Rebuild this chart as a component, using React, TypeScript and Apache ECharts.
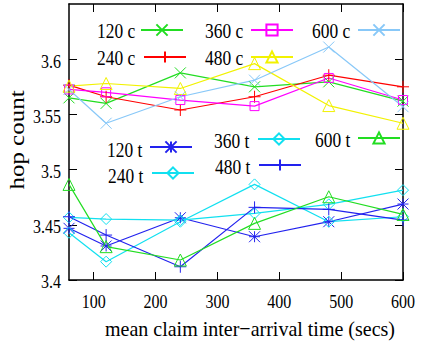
import { useEffect, useRef } from "react";
import * as echarts from "echarts";

// Mean claim inter-arrival time (secs) at which each run was measured
const claimTimes = [60, 120, 240, 360, 480, 600];
const xTickValues = [100, 200, 300, 400, 500, 600];
const yTickValues = [3.4, 3.45, 3.5, 3.55, 3.6];

// Average hop count, "c" runs
const hops120c = [3.565, 3.560, 3.5876, 3.575, 3.5795, 3.562];
const hops240c = [3.5765, 3.566, 3.554, 3.566, 3.5855, 3.575];
const hops360c = [3.5726, 3.570, 3.563, 3.5575, 3.583, 3.563];
const hops480c = [3.5756, 3.578, 3.5735, 3.596, 3.558, 3.542];
const hops600c = [3.5726, 3.542, 3.566, 3.581, 3.611, 3.557];

// Average hop count, "t" runs
const hops120t = [3.4468, 3.4308, 3.4564, 3.4392, 3.4528, 3.4688];
const hops240t = [3.4428, 3.4166, 3.4528, 3.4866, 3.4528, 3.4573];
const hops360t = [3.4567, 3.4552, 3.4543, 3.4603, 3.4685, 3.4814];
const hops480t = [3.4573, 3.4407, 3.412, 3.4658, 3.464, 3.4543];
const hops600t = [3.4866, 3.4302, 3.4181, 3.4513, 3.4754, 3.4594];

const X_MIN = 60;
const X_MAX = 600;
const Y_MIN = 3.4;
const Y_MAX = 3.65;

const SERIF = "Liberation Serif, Times New Roman, DejaVu Serif, serif";
// lettering is drawn at a large size and narrowed, giving tall, condensed glyphs
const tickFont = `20px ${SERIF}`;
const keyFont = `20px ${SERIF}`;

// gnuplot-style point types
const CROSS = "path://M0,0L10,10M10,0L0,10";
const PLUS = "path://M5,0L5,10M0,5L10,5";
const STAR = "path://M0,0L10,10M10,0L0,10M5,0L5,10M0,5L10,5";

type Spec = {
  name: string;
  values: number[];
  color: string;
  symbol: string;
  size: number;
};

const specs: Spec[] = [
  { name: "120 c", values: hops120c, color: "#22dd22", symbol: CROSS, size: 11 },
  { name: "240 c", values: hops240c, color: "#ff0000", symbol: PLUS, size: 12 },
  { name: "360 c", values: hops360c, color: "#ff00ff", symbol: "rect", size: 9 },
  { name: "480 c", values: hops480c, color: "#f2f200", symbol: "triangle", size: 12 },
  { name: "600 c", values: hops600c, color: "#88c8f8", symbol: CROSS, size: 11 },
  { name: "120 t", values: hops120t, color: "#2222ee", symbol: STAR, size: 11 },
  { name: "240 t", values: hops240t, color: "#11e0f0", symbol: "diamond", size: 11 },
  { name: "360 t", values: hops360t, color: "#11e0f0", symbol: "diamond", size: 11 },
  { name: "480 t", values: hops480t, color: "#2222ee", symbol: PLUS, size: 12 },
  { name: "600 t", values: hops600t, color: "#22dd22", symbol: "triangle", size: 12 },
];

// key entries: text position (left edge, middle) and sample-line position (left edge, middle)
const keyPlacement: Record<string, { tx: number; ty: number; ix: number; iy: number }> = {
  "120 c": { tx: 97, ty: 31, ix: 140, iy: 30 },
  "360 c": { tx: 205, ty: 31, ix: 250, iy: 30 },
  "600 c": { tx: 312, ty: 31, ix: 357, iy: 30 },
  "240 c": { tx: 97, ty: 58, ix: 143, iy: 57 },
  "480 c": { tx: 205, ty: 58, ix: 250, iy: 57 },
  "120 t": { tx: 107, ty: 150, ix: 149, iy: 147 },
  "360 t": { tx: 214, ty: 141, ix: 257, iy: 139 },
  "600 t": { tx: 315, ty: 140, ix: 357, iy: 138 },
  "240 t": { tx: 108, ty: 176, ix: 151, iy: 173 },
  "480 t": { tx: 215, ty: 167, ix: 258, iy: 165 },
};

function serifText(x: number, y: number, text: string, font: string, align: string, extra: object = {}) {
  return {
    type: "text",
    x,
    y,
    silent: true,
    ...extra,
    style: {
      text,
      font,
      fill: "#000",
      align,
      verticalAlign: "middle",
      textAlign: align,
      textVerticalAlign: "middle",
    },
  };
}

function buildOption(): echarts.EChartsOption {
  const frame = { show: true, onZero: false, lineStyle: { color: "#000", width: 1.5 } };
  const ticksX = { show: true, inside: true, length: 8, customValues: xTickValues, lineStyle: { color: "#000", width: 1 } };
  const ticksY = { show: true, inside: true, length: 8, customValues: yTickValues, lineStyle: { color: "#000", width: 1 } };

  return {
    animation: false,
    backgroundColor: "#fff",
    grid: { left: 69, right: 18, top: 4, bottom: 69, outerBoundsMode: "none" } as any,
    xAxis: [
      {
        type: "value", min: X_MIN, max: X_MAX, position: "bottom",
        axisLine: frame, axisTick: ticksX as any,
        axisLabel: { show: false }, splitLine: { show: false },
      },
      {
        type: "value", min: X_MIN, max: X_MAX, position: "top",
        axisLine: frame, axisTick: ticksX as any,
        axisLabel: { show: false }, splitLine: { show: false },
      },
    ],
    yAxis: [
      {
        type: "value", min: Y_MIN, max: Y_MAX, position: "left",
        axisLine: frame, axisTick: ticksY as any,
        axisLabel: { show: false }, splitLine: { show: false },
      },
      {
        type: "value", min: Y_MIN, max: Y_MAX, position: "right",
        axisLine: frame, axisTick: ticksY as any,
        axisLabel: { show: false }, splitLine: { show: false },
      },
    ],
    // sample lines with their point symbols; the entry names are set as text alongside
    legend: specs.map((s) => ({
      data: [s.name],
      left: keyPlacement[s.name].ix,
      top: keyPlacement[s.name].iy - 7,
      orient: "horizontal",
      align: "left",
      padding: 0,
      itemGap: 0,
      itemWidth: 42,
      itemHeight: 14,
      selectedMode: false,
      formatter: () => "",
    })) as any,
    series: specs.map((s) => ({
      type: "line",
      name: s.name,
      data: claimTimes.map((t, i) => [t, s.values[i]]),
      symbol: s.symbol,
      symbolSize: s.size,
      showAllSymbol: true,
      clip: false,
      lineStyle: { color: s.color, width: 1.2 },
      itemStyle: { color: "rgba(0,0,0,0)", borderColor: s.color, borderWidth: 1 },
      emphasis: { disabled: true },
    })) as any,
  };
}

function buildTexts(chart: echarts.ECharts) {
  const finder = { xAxisIndex: 0, yAxisIndex: 0 };
  const items: any[] = [];
  const tickShape = { scaleX: 0.8, scaleY: 0.95 };
  const keyShape = { scaleX: 0.87 };

  // tick labels, placed through the axes' own scales
  xTickValues.forEach((v) => {
    const [px, py] = chart.convertToPixel(finder, [v, Y_MIN]) as number[];
    items.push(serifText(px, py + 22, String(v), tickFont, "center", tickShape));
  });
  yTickValues.forEach((v) => {
    const [px, py] = chart.convertToPixel(finder, [X_MIN, v]) as number[];
    items.push(serifText(px - 8, py + 2, String(v), tickFont, "right", tickShape));
  });

  // key entry names
  specs.forEach((s) => {
    const k = keyPlacement[s.name];
    items.push(serifText(k.tx, k.ty, s.name, keyFont, "left", keyShape));
  });

  // axis titles
  items.push(serifText(17, 140, "hop count", `25px ${SERIF}`, "center", { rotation: Math.PI / 2, scaleY: 0.8 }));
  items.push(serifText(250, 329, "mean claim inter\u2212arrival time (secs)", `20px ${SERIF}`, "center", { scaleY: 1.1 }));

  return items;
}

export default function App() {
  const ref = useRef<HTMLDivElement>(null);

  useEffect(() => {
    if (!ref.current) return;
    const chart = echarts.init(ref.current, undefined, { renderer: "svg" });
    chart.setOption(buildOption());
    chart.setOption({ graphic: buildTexts(chart) });
    return () => chart.dispose();
  }, []);

  return (
    <div
      ref={ref}
      style={{ position: "fixed", left: 0, top: 0, width: 421, height: 349, background: "#fff" }}
    />
  );
}
